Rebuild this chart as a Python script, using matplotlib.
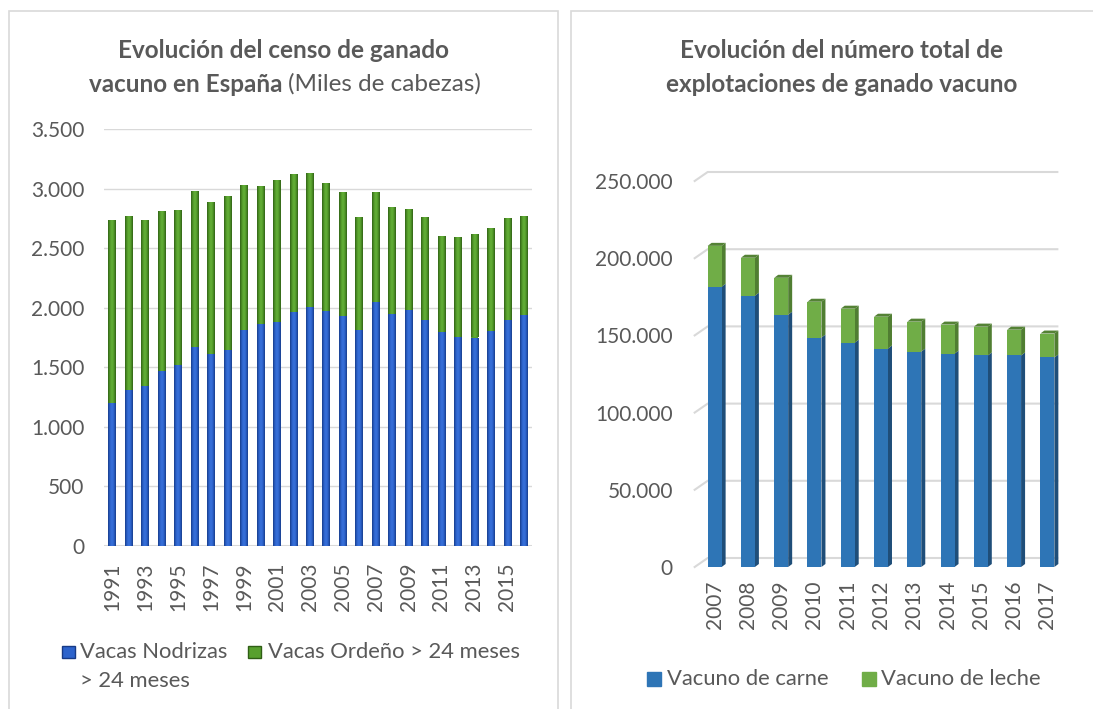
import matplotlib.pyplot as plt
import numpy as np
from matplotlib.patches import Rectangle, Polygon
from matplotlib.colors import LinearSegmentedColormap

W, H = 1093, 709

# ---- data: censo (miles de cabezas)
years_censo = [str(y) for y in range(1991, 2017)]
nodrizas = [1203, 1312, 1346, 1472, 1522, 1674, 1615, 1649, 1817, 1867, 1884, 1960, 2010,
            1976, 1934, 1817, 2052, 1951, 1985, 1901, 1800, 1758, 1750, 1808, 1901, 1943]
ordeno = [1530, 1455, 1387, 1337, 1296, 1303, 1270, 1286, 1211, 1152, 1186, 1160, 1119,
          1069, 1035, 942, 917, 892, 841, 858, 799, 832, 866, 858, 849, 824]
censo_ticks = [0, 500, 1000, 1500, 2000, 2500, 3000, 3500]

# ---- data: explotaciones
years_expl = [str(y) for y in range(2007, 2018)]
carne = [181500, 175700, 163400, 148600, 145300, 141500, 139500, 138200, 137000, 137000, 135700]
leche = [26500, 24600, 23900, 23200, 22000, 20600, 19400, 18800, 18700, 16700, 15500]
expl_ticks = [0, 50000, 100000, 150000, 200000, 250000]

plt.rcParams['font.family'] = ['Lato', 'DejaVu Sans']
GREY = '#595959'
FS = 15
LFS = 15.8
TFS = 17.5


def px(x, y):
    return x / W, 1 - y / H


def fmt(v):
    return f"{v:,}".replace(",", ".")


fig = plt.figure(figsize=(W / 100, H / 100), dpi=100)

# panel frames
fig.patches.append(Rectangle(px(9, 740), 549 / W, 729 / H, transform=fig.transFigure,
                             fill=False, edgecolor='#d9d9d9', lw=1.2))
fig.patches.append(Rectangle(px(571, 740), 560 / W, 729 / H, transform=fig.transFigure,
                             fill=False, edgecolor='#d9d9d9', lw=1.2))

# ================= left chart =================
ax1 = fig.add_axes([104 / W, (H - 546) / H, 428 / W, 417 / H])
x1 = np.arange(len(years_censo))
bw = 0.46
b_blue = ax1.bar(x1, nodrizas, bw, color='#2b60c6', zorder=3, lw=0)
b_green = ax1.bar(x1, ordeno, bw, bottom=nodrizas, color='#58a02e', zorder=3, lw=0)

cm_blue = LinearSegmentedColormap.from_list('b', ['#173a86', '#2c63cc', '#3a72dc', '#2c63cc', '#173a86'])
cm_green = LinearSegmentedColormap.from_list('g', ['#2f5e15', '#529a29', '#66b23a', '#529a29', '#2f5e15'])
grad = np.linspace(0, 1, 64).reshape(1, -1)
for bars, cm in ((b_blue, cm_blue), (b_green, cm_green)):
    for p in bars:
        x0, y0 = p.get_x(), p.get_y()
        im = ax1.imshow(grad, extent=[x0, x0 + p.get_width(), y0, y0 + p.get_height()],
                        aspect='auto', cmap=cm, zorder=4, interpolation='bicubic')
        im.set_clip_path(p)

ax1.set_xlim(-0.5, len(x1) - 0.5)
ax1.set_ylim(0, 3500)
ax1.set_yticks(censo_ticks)
ax1.set_yticklabels([fmt(v) for v in censo_ticks])
ax1.set_xticks(x1[::2])
ax1.set_xticklabels(years_censo[::2], rotation=90)
ax1.grid(axis='y', color='#d9d9d9', lw=1, zorder=0)
ax1.set_axisbelow(True)
for s in ax1.spines.values():
    s.set_visible(False)
ax1.axhline(0, color='#d9d9d9', lw=1.5, zorder=2)
ax1.tick_params(length=0, labelsize=FS, labelcolor=GREY)
ax1.tick_params(axis='y', pad=14)
ax1.tick_params(axis='x', pad=12)

# ================= right chart =================
ax2 = fig.add_axes([698 / W, (H - 567) / H, 366 / W, 386 / H])
x2 = np.arange(len(years_expl))
ymax = 250000
ax2.set_xlim(-0.5, len(x2) - 0.5)
ax2.set_ylim(0, ymax)
ux = (len(x2)) / 366.0   # data per px in x
uy = ymax / 386.0        # data per px in y

# back wall gridlines with depth stub
gdx, gdy = 13 * ux, 9 * uy
for v in expl_ticks:
    ax2.plot([-0.6, -0.6 + gdx, 10.3], [v, v + gdy, v + gdy], color='#d9d9d9', lw=1.5,
             clip_on=False, zorder=1)

bw2 = 0.42
f_blue = ax2.bar(x2, carne, bw2, color='#2e75b6', zorder=5, lw=0)
f_green = ax2.bar(x2, leche, bw2, bottom=carne, color='#70ad47', zorder=5, lw=0)
sdx, sdy = 4 * ux, 3 * uy
for i in range(len(x2)):
    xr = x2[i] + bw2 / 2
    xl = x2[i] - bw2 / 2
    top_b = carne[i]
    top_g = carne[i] + leche[i]
    ax2.add_patch(Polygon([[xr, 0], [xr + sdx, sdy], [xr + sdx, top_b + sdy], [xr, top_b]],
                          closed=True, color='#1f4e79', lw=0, zorder=4))
    ax2.add_patch(Polygon([[xr, top_b], [xr + sdx, top_b + sdy], [xr + sdx, top_g + sdy], [xr, top_g]],
                          closed=True, color='#507e32', lw=0, zorder=4))
    ax2.add_patch(Polygon([[xl, top_g], [xl + sdx, top_g + sdy], [xr + sdx, top_g + sdy], [xr, top_g]],
                          closed=True, color='#548235', lw=0, zorder=4, clip_on=False))

ax2.set_yticks(expl_ticks)
ax2.set_yticklabels([fmt(v) for v in expl_ticks])
ax2.set_xticks(x2)
ax2.set_xticklabels(years_expl, rotation=90)
for s in ax2.spines.values():
    s.set_visible(False)
ax2.tick_params(length=0, labelsize=FS, labelcolor=GREY)
ax2.tick_params(axis='y', pad=18)
ax2.tick_params(axis='x', pad=10)

# ================= titles =================
fig.text(*px(284, 50), "Evolución del censo de ganado", ha='center', va='center',
         fontsize=TFS, fontweight='bold', color=GREY)
tb = fig.text(*px(0, 84), "vacuno en España", ha='left', va='center',
              fontsize=TFS, fontweight='bold', color=GREY)
tn = fig.text(*px(0, 84), "(Miles de cabezas)", ha='left', va='center',
              fontsize=TFS, color=GREY)
fig.text(*px(842, 50), "Evolución del número total de", ha='center', va='center',
         fontsize=TFS, fontweight='bold', color=GREY)
fig.text(*px(842, 84), "explotaciones de ganado vacuno", ha='center', va='center',
         fontsize=TFS, fontweight='bold', color=GREY)

fig.canvas.draw()
r = fig.canvas.get_renderer()
wb = tb.get_window_extent(r).width
wn = tn.get_window_extent(r).width
gap = 6
start = 285 - (wb + gap + wn) / 2
tb.set_x(start / W)
tn.set_x((start + wb + gap) / W)

# ================= legends =================
def marker(x, y, w, h, fc, ec):
    fig.patches.append(Rectangle(px(x, y + h), w / W, h / H, transform=fig.transFigure,
                                 facecolor=fc, edgecolor=ec, lw=1))

marker(62, 646, 13, 12, '#2c63cc', '#173a86')
fig.text(*px(80, 652), "Vacas Nodrizas", ha='left', va='center', fontsize=LFS, color=GREY)
fig.text(*px(80, 681), "> 24 meses", ha='left', va='center', fontsize=LFS, color=GREY)
marker(248, 646, 13, 12, '#58a02e', '#2f5e15')
fig.text(*px(268, 652), "Vacas Ordeño > 24 meses", ha='left', va='center', fontsize=LFS, color=GREY)

marker(647, 672, 14, 14, '#2e75b6', '#2e75b6')
fig.text(*px(667, 679), "Vacuno de carne", ha='left', va='center', fontsize=LFS, color=GREY)
marker(862, 672, 14, 14, '#70ad47', '#70ad47')
fig.text(*px(881, 679), "Vacuno de leche", ha='left', va='center', fontsize=LFS, color=GREY)

fig.savefig("out.png", dpi=100, facecolor='white')
